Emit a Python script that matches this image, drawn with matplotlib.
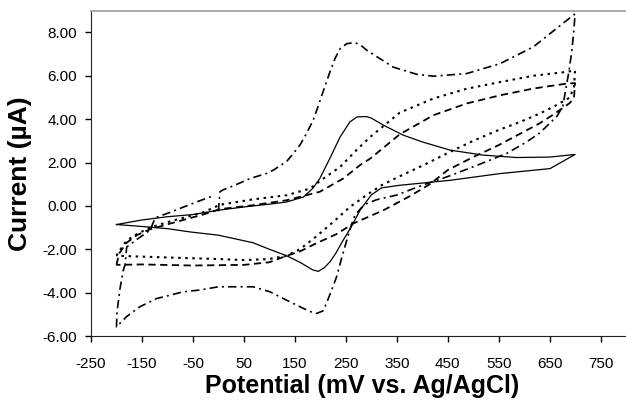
import matplotlib
matplotlib.use("Agg")
import matplotlib.pyplot as plt

plt.rcParams['font.family'] = ['Liberation Sans', 'DejaVu Sans']
plt.rcParams['axes.unicode_minus'] = False

# Solid curve (scan order)
E_solid = [-200, -150, -100, -50, 0, 50, 100, 134, 167, 185, 199, 219, 239, 258, 272, 290, 300, 324, 363, 400, 455, 520, 585, 650, 700,
           651, 600, 553, 455, 356, 320, 300, 278, 260, 245, 230, 219, 208, 196, 185, 160, 134, 100, 68, 0, -56, -100, -150, -200]
I_solid = [-0.86, -0.65, -0.5, -0.4, -0.2, -0.05, 0.08, 0.18, 0.41, 0.8, 1.26, 2.2, 3.18, 3.87, 4.1, 4.12, 4.05, 3.72, 3.26, 2.95, 2.57, 2.34, 2.23, 2.25, 2.37,
           1.72, 1.6, 1.49, 1.18, 0.95, 0.83, 0.5, -0.2, -1.0, -1.58, -2.2, -2.58, -2.85, -3.02, -2.95, -2.6, -2.3, -2.0, -1.7, -1.35, -1.2, -1.05, -0.95, -0.86]

# Dash-dot curve (scan order)
E_dashdot = [0, 3, 10, 29, 62, 95, 108, 134, 147, 160, 173, 186, 193, 206, 219, 229, 239, 252, 268, 280, 291, 317, 343, 389, 422, 487, 553, 618, 684, 700,
             698, 694, 688, 682, 676, 665, 650, 630, 605, 566, 500, 450, 400, 350, 310, 291, 280, 268, 260, 252, 242, 232, 222, 212, 205, 199, 193, 186, 167, 134, 101, 68, 29, 0, -36, -69, -100, -121, -154, -180, -200,
             -199, -193, -187, -183, -180, -160, -134, -124, -95, -43, -7]
I_dashdot = [-0.25, 0.65, 0.75, 0.92, 1.26, 1.5, 1.65, 2.05, 2.41, 2.8, 3.34, 3.95, 4.41, 5.3, 6.18, 6.8, 7.25, 7.48, 7.53, 7.4, 7.18, 6.79, 6.4, 6.07, 5.98, 6.1, 6.56, 7.33, 8.56, 8.85,
             8.2, 7.2, 6.2, 5.4, 4.6, 4.15, 3.8, 3.35, 2.95, 2.42, 1.8, 1.35, 0.95, 0.5, 0.28, 0.1, -0.1, -0.43, -0.95, -1.58, -2.4, -3.27, -3.9, -4.5, -4.85, -4.9, -4.96, -4.93, -4.73, -4.35, -3.96, -3.73, -3.73, -3.73, -3.88, -3.96, -4.15, -4.27, -4.65, -5.1, -5.58,
             -4.9, -3.8, -3.0, -2.7, -1.9, -1.55, -1.12, -0.55, -0.3, 0.18, 0.49]

# Dotted curve (scan order)
E_dotted = [-200, -195, -180, -160, -134, -100, -69, -30, 3, 68, 134, 180, 206, 239, 271, 298, 356, 422, 487, 553, 618, 684, 700,
            698, 690, 660, 630, 590, 550, 500, 460, 400, 350, 320, 291, 258, 225, 190, 160, 134, 100, 50, 0, -100, -200]
I_dotted = [-2.3, -2.1, -1.6, -1.3, -1.0, -0.75, -0.55, -0.3, 0.05, 0.3, 0.49, 0.8, 1.26, 1.8, 2.57, 3.18, 4.3, 4.95, 5.4, 5.71, 6.0, 6.18, 6.25,
            5.5, 5.0, 4.6, 4.25, 3.85, 3.5, 3.0, 2.55, 1.85, 1.3, 0.95, 0.5, -0.05, -0.75, -1.45, -2.0, -2.3, -2.45, -2.5, -2.45, -2.38, -2.3]

# Dashed curve (scan order)
E_dashed = [-200, -195, -180, -160, -134, -100, -69, -30, 3, 68, 134, 199, 245, 278, 298, 356, 422, 487, 553, 618, 684, 700,
            698, 690, 660, 630, 590, 550, 500, 450, 415, 376, 324, 265, 232, 190, 160, 134, 100, 50, -50, -150, -200]
I_dashed = [-2.72, -2.2, -1.7, -1.35, -1.08, -0.85, -0.65, -0.4, -0.15, 0.03, 0.26, 0.65, 1.26, 1.88, 2.18, 3.3, 4.18, 4.72, 5.1, 5.41, 5.64, 5.66,
            5.0, 4.75, 4.25, 3.8, 3.3, 2.8, 2.25, 1.65, 1.0, 0.45, -0.2, -0.81, -1.3, -1.75, -2.1, -2.3, -2.6, -2.72, -2.75, -2.7, -2.72]

x_ticks = [-250, -150, -50, 50, 150, 250, 350, 450, 550, 650, 750]
y_ticks = [-6, -4, -2, 0, 2, 4, 6, 8]

fig = plt.figure(figsize=(6.26, 4.04), dpi=100)
ax = fig.add_axes([91/626, 68/404, 535/626, 325.3/404])

ax.plot(E_solid, I_solid, color='black', lw=0.9, linestyle='-')
ax.plot(E_dashdot, I_dashdot, color='black', lw=1.2, dashes=(5, 2.5, 1.2, 2.5))
ax.plot(E_dotted, I_dotted, color='black', lw=1.5, dashes=(1.2, 2.2))
ax.plot(E_dashed, I_dashed, color='black', lw=1.3, dashes=(4, 2.5))

ax.set_xlim(-250, 800)
ax.set_ylim(-6, 9)
ax.set_xticks(x_ticks)
ax.set_xticklabels([str(v) for v in x_ticks])
ax.set_yticks(y_ticks)
ax.set_yticklabels(['%.2f' % v for v in y_ticks])
ax.tick_params(direction='out', length=4, width=1, labelsize=11, color='black')
ax.tick_params(axis='x', pad=11)
ax.tick_params(axis='y', pad=6)

ax.spines['right'].set_visible(False)
ax.spines['top'].set_color('#9a9a9a')
ax.spines['top'].set_linewidth(1.2)
ax.spines['left'].set_color('#222222')
ax.spines['bottom'].set_color('#222222')

ax.set_xlabel('Potential (mV vs. Ag/AgCl)', fontsize=18, fontweight='bold')
ax.set_ylabel('Current (µA)', fontsize=19, fontweight='bold')
ax.xaxis.set_label_coords(0.5075, -0.118)
ax.yaxis.set_label_coords(-0.11, 0.5)

fig.savefig('out.png', dpi=100)
